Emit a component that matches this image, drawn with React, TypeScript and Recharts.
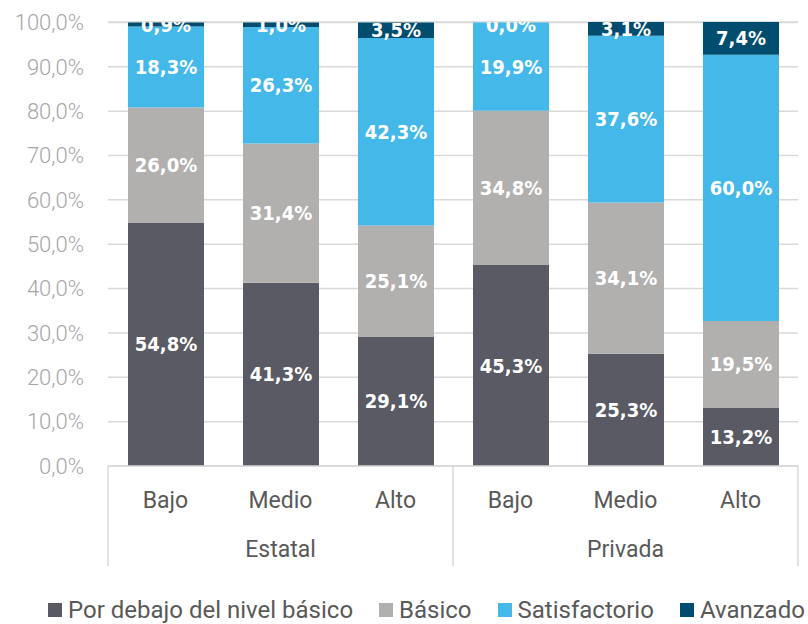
import React from 'react';
import { BarChart, Bar, XAxis, YAxis, CartesianGrid, LabelList, Legend } from 'recharts';

// Niveles de logro por gestión y nivel socioeconómico (%)
const categories = ['Bajo', 'Medio', 'Alto', 'Bajo', 'Medio', 'Alto'];
const groups = ['Estatal', 'Estatal', 'Estatal', 'Privada', 'Privada', 'Privada'];
const porDebajo = [54.8, 41.3, 29.1, 45.3, 25.3, 13.2];
const basico = [26.0, 31.4, 25.1, 34.8, 34.1, 19.5];
const satisfactorio = [18.3, 26.3, 42.3, 19.9, 37.6, 60.0];
const avanzado = [0.9, 1.0, 3.5, 0.0, 3.1, 7.4];
const yTicks = [0, 10, 20, 30, 40, 50, 60, 70, 80, 90, 100];

const SERIES = [
  { key: 'porDebajo', name: 'Por debajo del nivel básico', color: '#595a63' },
  { key: 'basico', name: 'Básico', color: '#b1b0af' },
  { key: 'satisfactorio', name: 'Satisfactorio', color: '#45b8ea' },
  { key: 'avanzado', name: 'Avanzado', color: '#014d6f' },
];

const PLOT_TOP = 22;
const LINE = '#d9d9d9';
const TEXT = '#595959';
const LABEL_FONT = "'DejaVu Sans Condensed', 'DejaVu Sans', sans-serif";

const data = categories.map((c, i) => ({
  id: String(i),
  category: c,
  group: groups[i],
  porDebajo: porDebajo[i],
  basico: basico[i],
  satisfactorio: satisfactorio[i],
  avanzado: avanzado[i],
}));

const pct = (v: number) => v.toFixed(1).replace('.', ',') + '%';

function CategoryTick(props: any) {
  const { x, y, payload } = props;
  const i = payload.index ?? props.index;
  const half = payload.offset || 57.5;
  const isFirst = i === 0 || groups[i] !== groups[i - 1];
  const isLast = i === categories.length - 1;
  const members = groups.map((g, j) => (g === groups[i] ? j : -1)).filter((j) => j >= 0);
  const isMiddle = members[Math.floor(members.length / 2)] === i;
  return (
    <g>
      <text x={x} y={y + 42} textAnchor="middle" fill={TEXT} fontSize={23} fontFamily="Roboto">
        {categories[i]}
      </text>
      {isMiddle && (
        <text x={x} y={y + 91} textAnchor="middle" fill={TEXT} fontSize={23} fontFamily="Roboto">
          {groups[i]}
        </text>
      )}
      {isFirst && <line x1={x - half} x2={x - half} y1={y} y2={y + 100} stroke={LINE} strokeWidth={1.5} />}
      {isLast && <line x1={x + half} x2={x + half} y1={y} y2={y + 100} stroke={LINE} strokeWidth={1.5} />}
    </g>
  );
}

function ClippedText({ id, x, y, width, text }: any) {
  return (
    <g>
      <clipPath id={id}>
        <rect x={x - 20} y={PLOT_TOP} width={width + 40} height={600} />
      </clipPath>
      <text
        x={x + width / 2}
        y={y}
        clipPath={`url(#${id})`}
        textAnchor="middle"
        dominantBaseline="central"
        fill="#ffffff"
        fontSize={20}
        fontWeight="bold"
        fontFamily={LABEL_FONT}
        style={{ fontStretch: 'condensed' }}
      >
        {text}
      </text>
    </g>
  );
}

const makeLabel = (key: string) => (props: any) => {
  const vb = props.viewBox || props;
  const { x, y, width, height } = vb;
  const { value, index } = props;
  if (value == null) return null;
  const cy = Math.max(y + height / 2, PLOT_TOP + 3);
  const main = <ClippedText id={`clip-${key}-${index}`} x={x} y={cy} width={width} text={pct(Number(value))} />;
  // a zero-height "Avanzado" segment draws no bar, so its label is placed on top of the stack here
  if (key === 'satisfactorio' && avanzado[index] === 0) {
    return (
      <g>
        {main}
        <ClippedText id={`clip-avz0-${index}`} x={x} y={Math.max(y, PLOT_TOP + 3)} width={width} text={pct(0)} />
      </g>
    );
  }
  return main;
};

function LegendContent() {
  return (
    <div
      style={{
        height: 58,
        boxSizing: 'border-box',
        paddingTop: 30,
        paddingLeft: 48,
        display: 'flex',
        whiteSpace: 'nowrap',
        width: 808,
      }}
    >
      {SERIES.map((s) => (
        <div key={s.key} style={{ display: 'flex', alignItems: 'center', marginRight: 26 }}>
          <span style={{ display: 'inline-block', width: 14, height: 14, background: s.color, marginRight: 6 }} />
          <span style={{ fontFamily: 'Roboto', fontSize: 24, lineHeight: '28px', color: TEXT }}>{s.name}</span>
        </div>
      ))}
    </div>
  );
}

export default function App() {
  return (
    <div style={{ position: 'absolute', left: 0, top: 0, width: 808, height: 624, background: '#fff' }}>
      <BarChart width={808} height={624} data={data} margin={{ top: PLOT_TOP, right: 10, left: 0, bottom: 0 }}>
        <CartesianGrid vertical={false} stroke={LINE} strokeWidth={1.5} />
        <XAxis
          dataKey="id"
          height={100}
          tickLine={false}
          tickSize={0}
          tickMargin={0}
          axisLine={{ stroke: LINE, strokeWidth: 1.5 }}
          interval={0}
          tick={<CategoryTick />}
        />
        <YAxis
          width={108}
          domain={[0, 100]}
          ticks={yTicks}
          tickFormatter={pct}
          axisLine={false}
          tickLine={false}
          tickSize={0}
          tickMargin={24}
          tick={{ fill: '#a6a6a6', fontSize: 22, fontFamily: 'Roboto', fontWeight: 300 }}
        />
        <Legend verticalAlign="bottom" content={<LegendContent />} wrapperStyle={{ width: 808, left: 0 }} />
        {SERIES.map((s) => (
          <Bar key={s.key} dataKey={s.key} name={s.name} stackId="a" fill={s.color} barSize={76} isAnimationActive={false}>
            <LabelList dataKey={s.key} content={makeLabel(s.key)} />
          </Bar>
        ))}
      </BarChart>
    </div>
  );
}
